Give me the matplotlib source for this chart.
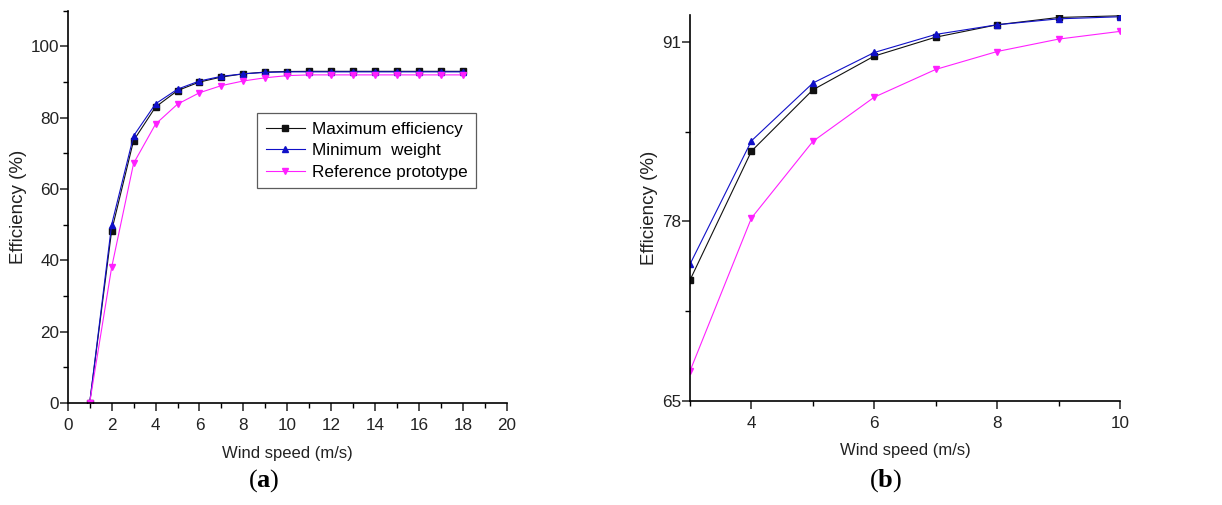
import matplotlib
matplotlib.use("Agg")
import matplotlib.pyplot as plt
from matplotlib.ticker import MultipleLocator, FixedLocator

plt.rcParams['font.family'] = ['Liberation Sans', 'DejaVu Sans']
plt.rcParams['mathtext.fontset'] = 'custom'
plt.rcParams['mathtext.rm'] = 'Liberation Serif'
plt.rcParams['mathtext.bf'] = 'Liberation Serif:bold'

# panel (a) data
speed_a = list(range(1, 19))
max_eff_a = [0, 48.3, 73.6, 83.0, 87.6, 90.0, 91.4, 92.3, 92.8, 92.95,
             93.0, 93.0, 93.0, 93.0, 93.0, 93.0, 93.0, 93.0]
min_wt_a = [0, 50.0, 74.9, 83.9, 88.0, 90.3, 91.6, 92.3, 92.7, 92.85,
            92.85, 92.85, 92.85, 92.85, 92.85, 92.85, 92.85, 92.85]
ref_a = [0, 38.0, 67.2, 78.2, 83.8, 87.0, 89.0, 90.3, 91.2, 91.8,
         92.0, 92.0, 92.0, 92.0, 92.0, 92.0, 92.0, 92.0]

# panel (b) data, zoom on 3..10 m/s
speed_b = [3, 4, 5, 6, 7, 8, 9, 10]
max_eff_b = [73.75, 83.1, 87.55, 90.0, 91.37, 92.27, 92.8, 92.92]
min_wt_b = [74.9, 83.85, 88.04, 90.26, 91.57, 92.27, 92.7, 92.85]
ref_b = [67.15, 78.25, 83.81, 87.02, 89.03, 90.33, 91.23, 91.79]

labels = ["Maximum efficiency", "Minimum  weight", "Reference prototype"]
colors = ["#111111", "#1010c8", "#ff20ff"]
markers = ["s", "^", "v"]

fig = plt.figure(figsize=(12.22, 5.05), dpi=100)
W, H = 1222, 505
ax_a = fig.add_axes([67.7 / W, 1 - 403 / H, (507 - 67.7) / W, (403 - 10.7) / H])
ax_b = fig.add_axes([690 / W, 1 - 400.7 / H, (1120 - 690) / W, (400.7 - 14.7) / H])


def style(ax):
    for s in ["top", "right"]:
        ax.spines[s].set_visible(False)
    for s in ["left", "bottom"]:
        ax.spines[s].set_linewidth(1.2)
    ax.tick_params(which="major", direction="out", length=6, width=1.1, labelsize=12.3, colors="#222222")
    ax.tick_params(which="minor", direction="out", length=3.5, width=1.0)
    ax.tick_params(axis="y", which="major", pad=0)
    ax.tick_params(axis="x", which="major", pad=5)
    ax.set_xlabel("Wind speed (m/s)", fontsize=12, color="#222222", labelpad=9)
    ax.set_ylabel("Efficiency (%)", fontsize=13.5, color="#222222", labelpad=3)


series_a = [max_eff_a, min_wt_a, ref_a]
for ys, lab, c, m in zip(series_a, labels, colors, markers):
    ax_a.plot(speed_a, ys, color=c, marker=m, markersize=4.5, linewidth=0.8, label=lab)
ax_a.set_xlim(0, 20)
ax_a.set_ylim(0, 110)
ax_a.xaxis.set_major_locator(MultipleLocator(2))
ax_a.xaxis.set_minor_locator(MultipleLocator(1))
ax_a.yaxis.set_major_locator(FixedLocator([0, 20, 40, 60, 80, 100]))
ax_a.yaxis.set_minor_locator(MultipleLocator(10))
style(ax_a)
leg = ax_a.legend(loc="upper left", bbox_to_anchor=(0.431, 0.739), borderaxespad=0,
                  fontsize=12.3, frameon=True, fancybox=False, edgecolor="#333333",
                  handlelength=2.3, borderpad=0.5, labelspacing=0.38, handletextpad=0.4)
leg.get_frame().set_linewidth(0.9)

series_b = [max_eff_b, min_wt_b, ref_b]
for ys, lab, c, m in zip(series_b, labels, colors, markers):
    ax_b.plot(speed_b, ys, color=c, marker=m, markersize=4.5, linewidth=0.8, label=lab)
ax_b.set_xlim(3, 10)
ax_b.set_ylim(65, 93)
ax_b.xaxis.set_major_locator(FixedLocator([4, 6, 8, 10]))
ax_b.xaxis.set_minor_locator(FixedLocator([3, 5, 7, 9]))
ax_b.yaxis.set_major_locator(FixedLocator([65, 78, 91]))
ax_b.yaxis.set_minor_locator(FixedLocator([71.5, 84.5]))
style(ax_b)

# panel letters
serif = ['Liberation Serif', 'DejaVu Serif']
fig.text(264 / W, 1 - 481 / H, r"($\mathbf{a}$)", ha="center", va="center", fontsize=19, family=serif)
fig.text(886 / W, 1 - 481 / H, r"($\mathbf{b}$)", ha="center", va="center", fontsize=19, family=serif)

fig.savefig("out.png", dpi=100)
